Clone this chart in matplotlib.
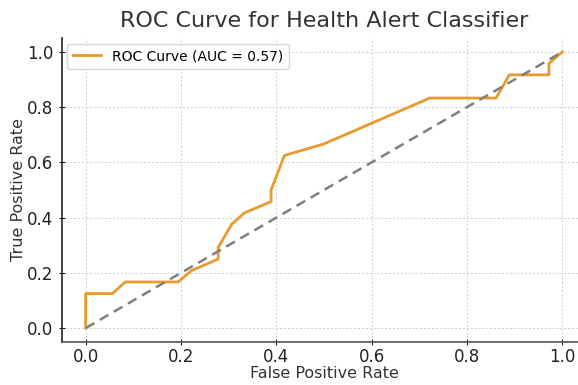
import matplotlib.pyplot as plt

# ROC points (false positive rate / true positive rate)
fpr = [0.0, 0.0, 0.056, 0.083, 0.194, 0.222, 0.278, 0.278, 0.306, 0.333,
       0.389, 0.389, 0.417, 0.5, 0.722, 0.861, 0.889, 0.972, 0.972, 1.0]
tpr = [0.0, 0.125, 0.125, 0.167, 0.167, 0.208, 0.25, 0.292, 0.375, 0.417,
       0.458, 0.5, 0.625, 0.667, 0.833, 0.833, 0.917, 0.917, 0.958, 1.0]
auc_value = 0.57

chance_x = [0, 1]
chance_y = [0, 1]

fig = plt.figure(figsize=(5.78, 3.85), dpi=100)
ax = fig.add_axes([0.107, 0.112, 0.907, 0.789])

ax.plot(fpr, tpr, color="#e89a2c", lw=2, label=f"ROC Curve (AUC = {auc_value:.2f})")
ax.plot(chance_x, chance_y, color="#7f7f7f", lw=1.8, linestyle=(0, (4, 2.5)))

ax.set_xlim(-0.05, 1.05)
ax.set_ylim(-0.05, 1.05)
ax.set_xticks([0.0, 0.2, 0.4, 0.6, 0.8, 1.0])
ax.set_yticks([0.0, 0.2, 0.4, 0.6, 0.8, 1.0])

ax.grid(True, linestyle=(0, (2, 2)), color="#d0d0d0", lw=0.7)
ax.set_axisbelow(True)

for side in ["top", "right"]:
    ax.spines[side].set_visible(False)
ax.spines["left"].set_color("#222222")
ax.spines["bottom"].set_color("#555555")
ax.spines["left"].set_linewidth(1.2)
ax.spines["bottom"].set_linewidth(1.2)
ax.tick_params(direction="inout", length=5, width=0.8, labelsize=12,
               colors="#222222")
ax.tick_params(axis="x", pad=2)

ax.set_title("ROC Curve for Health Alert Classifier", fontsize=16,
             color="#333333", pad=8)
ax.set_xlabel("False Positive Rate", fontsize=11.5, color="#333333", labelpad=0)
ax.set_ylabel("True Positive Rate", fontsize=11.5, color="#333333", labelpad=1)

ax.legend(loc="upper left", fontsize=10, frameon=True, edgecolor="#cccccc",
          fancybox=True, borderaxespad=0.4)

fig.savefig("out.png", dpi=100)
